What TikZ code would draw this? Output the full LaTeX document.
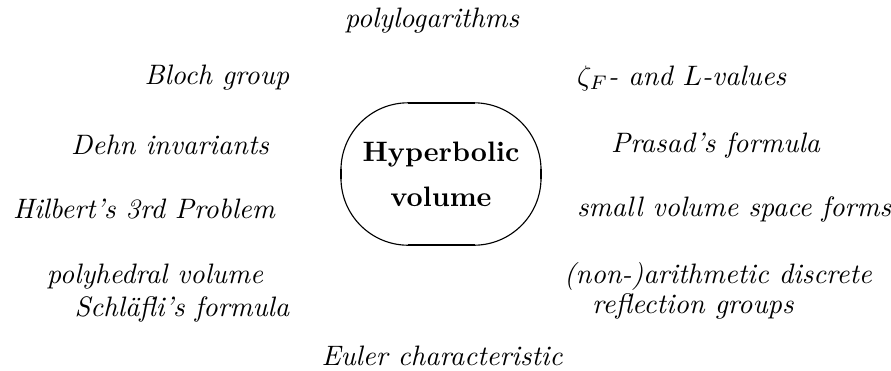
\documentclass[tikz,border=0pt]{standalone}
\usepackage{amsmath,amssymb}
\usepackage{tikz}
\usetikzlibrary{positioning,calc}

\begin{document}
\begin{tikzpicture}[
  x=0.0125cm, y=-0.0125cm,
  every node/.style={inner sep=2pt},
  topic/.style={font=\itshape},
  core/.style={minimum width=2.5cm, minimum height=1.78cm, outer sep=0pt,
    align=center, font=\bfseries},
  flat/.style={line width=0.8pt}
]
\useasboundingbox (0,0) rectangle (891,370);

% centre
\node[core] (vol) at (441,174) {Hyperbolic\\[4pt]volume};
\draw[rounded corners=0.84cm] (vol.south west) rectangle (vol.north east);
\draw[flat] ($(vol.north)+(-33,0)$) -- ($(vol.north)+(34,0)$);
\draw[flat] ($(vol.south)+(-33,0)$) -- ($(vol.south)+(34,0)$);
\draw[flat] ($(vol.west)+(0,-5)$) -- ($(vol.west)+(0,5)$);
\draw[flat] ($(vol.east)+(0,-5)$) -- ($(vol.east)+(0,5)$);

% topics round it (x, y in pixels of the sketch)
\node[topic] (polylog)  at (432,21)  {polylogarithms};
\node[topic] (bloch)    at (217,78)  {Bloch group};
\node[topic,anchor=west] (zeta)   at (571,78)  {$\zeta_F$- and $L$-values};
\node[topic] (dehn)     at (170,145) {Dehn invariants};
\node[topic,anchor=west] (prasad) at (605,145) {Prasad's formula};
\node[topic] (hilbert)  at (144,209) {Hilbert's 3rd Problem};
\node[topic,anchor=west] (small)  at (571,209) {small volume space forms};
\node[topic] (polyh)    at (155,277) {polyhedral volume};
\node[topic] (schlafli) at (182,309) {Schläfli's formula};
\node[topic,anchor=west] (arith)  at (558,276) {(non-)arithmetic discrete};
\node[topic,anchor=west] (refl)   at (586,306) {reflection groups};
\node[topic] (euler)    at (442,356) {Euler characteristic};
\end{tikzpicture}
\end{document}
